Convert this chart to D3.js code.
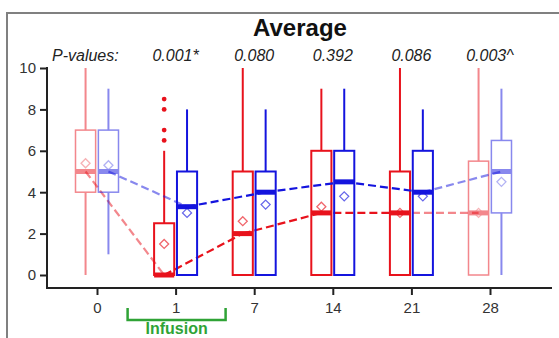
<!DOCTYPE html>
<meta charset="utf-8">
<style>
    body { margin: 0; background: #fff; }
    text { font-family: "Liberation Sans", Arial, sans-serif; }
</style>

<body>
    <script src="https://d3js.org/d3.v7.min.js"></script>
    <script>

        // days and p-values
        var days = ["0", "1", "7", "14", "21", "28"];
        var pValues = ["", "0.001*", "0.080", "0.392", "0.086", "0.003^"];
        var faded = [true, false, false, false, false, true];

        // red group
        var redMin = [0, 0, 0, 0, 0, 0];
        var redQ1 = [4, 0, 0, 0, 0, 0];
        var redMed = [5, 0, 2, 3, 3, 3];
        var redQ3 = [7, 2.5, 5, 6, 5, 5.5];
        var redMax = [10, 6, 10, 9, 10, 10];
        var redMean = [5.4, 1.5, 2.6, 3.3, 3.0, 3.0];
        var redOutliers = [[], [6.5, 7, 8, 8.5], [], [], [], []];

        // blue group
        var blueMin = [1, 0, 0, 0, 0, 0];
        var blueQ1 = [4, 0, 0, 0, 0, 3];
        var blueMed = [5, 3.3, 4, 4.5, 4, 5];
        var blueQ3 = [7, 5, 5, 6, 6, 6.5];
        var blueMax = [9, 8, 8, 9, 8, 9];
        var blueMean = [5.3, 3.0, 3.4, 3.8, 3.8, 4.5];
        var blueOutliers = [[], [], [], [], [], []];

        var yTicks = [0, 2, 4, 6, 8, 10];

        var W = 559, H = 338;
        var svg = d3.select("body").append("svg")
            .attr("width", W)
            .attr("height", H);

        // frame
        svg.append("path")
            .attr("d", "M7," + H + "V13H" + W)
            .attr("fill", "none")
            .attr("stroke", "#808080")
            .attr("stroke-width", 2);

        var x = d3.scalePoint().domain(days).range([97, 490]);
        var y = d3.scaleLinear().domain([0, 10]).range([275, 68]);
        var sub = d3.scaleBand().domain(["red", "blue"]).range([-21.5, 21.5]).paddingInner(0.12);

        var groups = [
            { key: "red", color: "#e8121c", min: redMin, q1: redQ1, med: redMed, q3: redQ3, max: redMax, mean: redMean, out: redOutliers },
            { key: "blue", color: "#1414de", min: blueMin, q1: blueQ1, med: blueMed, q3: blueQ3, max: blueMax, mean: blueMean, out: blueOutliers }
        ];

        var bw = sub.bandwidth();

        groups.forEach(function (g) {
            var rows = days.map(function (d, i) {
                return {
                    day: d, i: i, min: g.min[i], q1: g.q1[i], med: g.med[i], q3: g.q3[i],
                    max: g.max[i], mean: g.mean[i], out: g.out[i], faded: faded[i]
                };
            });
            var cx = function (d) { return x(d.day) + sub(g.key) + bw / 2; };

            var box = svg.append("g").selectAll("g")
                .data(rows).enter().append("g")
                .attr("opacity", function (d) { return d.faded ? 0.5 : 1; });

            // whiskers
            box.append("line")
                .attr("x1", cx).attr("x2", cx)
                .attr("y1", function (d) { return y(d.min); })
                .attr("y2", function (d) { return y(d.q1); })
                .attr("stroke", g.color).attr("stroke-width", 2);
            box.append("line")
                .attr("x1", cx).attr("x2", cx)
                .attr("y1", function (d) { return y(d.q3); })
                .attr("y2", function (d) { return y(d.max); })
                .attr("stroke", g.color).attr("stroke-width", 2);

            // box
            box.append("rect")
                .attr("x", function (d) { return cx(d) - bw / 2; })
                .attr("y", function (d) { return y(d.q3); })
                .attr("width", bw)
                .attr("height", function (d) { return y(d.q1) - y(d.q3); })
                .attr("fill", "none")
                .attr("stroke", g.color)
                .attr("stroke-width", function (d) { return d.faded ? 1.5 : 2; });

            // median band
            box.append("rect")
                .attr("x", function (d) { return cx(d) - bw / 2; })
                .attr("y", function (d) { return y(d.med) - 2.5; })
                .attr("width", bw)
                .attr("height", 5)
                .attr("fill", g.color);

            // mean diamond
            box.append("path")
                .attr("d", "M0,-4.5L4.5,0L0,4.5L-4.5,0Z")
                .attr("transform", function (d) { return "translate(" + cx(d) + "," + y(d.mean) + ")"; })
                .attr("fill", "none")
                .attr("stroke", g.color)
                .attr("stroke-opacity", 0.65)
                .attr("stroke-width", 1.3);

            // outliers
            box.selectAll("circle")
                .data(function (d) { return d.out.map(function (v) { return { day: d.day, v: v }; }); })
                .enter().append("circle")
                .attr("cx", cx)
                .attr("cy", function (d) { return y(d.v); })
                .attr("r", 2.4)
                .attr("fill", g.color);

            // dashed median line, one segment at a time
            for (var i = 0; i < rows.length - 1; i++) {
                var a = rows[i], b = rows[i + 1];
                svg.append("line")
                    .attr("x1", cx(a)).attr("y1", y(a.med))
                    .attr("x2", cx(b)).attr("y2", y(b.med))
                    .attr("stroke", g.color)
                    .attr("stroke-width", 2.2)
                    .attr("stroke-dasharray", "8,4")
                    .attr("opacity", (a.faded || b.faded) ? 0.5 : 1);
            }
        });

        // Y axis
        var yAxis = svg.append("g")
            .attr("transform", "translate(47,0)")
            .call(d3.axisLeft(y).tickValues(yTicks).tickSize(7).tickPadding(4));
        yAxis.select(".domain").remove();
        yAxis.selectAll("line").attr("stroke", "#222").attr("stroke-width", 2);
        yAxis.selectAll("text").attr("font-size", 15).attr("fill", "#333")
            .style("font-family", "'Liberation Sans', Arial, sans-serif");

        // X axis
        var xAxis = svg.append("g")
            .attr("transform", "translate(0,288)")
            .call(d3.axisBottom(x).tickSize(7).tickPadding(7));
        xAxis.select(".domain").remove();
        xAxis.selectAll("line").attr("stroke", "#222").attr("stroke-width", 2);
        xAxis.selectAll("text").attr("font-size", 15).attr("fill", "#333")
            .style("font-family", "'Liberation Sans', Arial, sans-serif");

        // axis lines
        svg.append("path")
            .attr("d", "M47,67V288H552")
            .attr("fill", "none")
            .attr("stroke", "#222")
            .attr("stroke-width", 2);

        // title
        svg.append("text")
            .attr("x", 300)
            .attr("y", 36)
            .attr("text-anchor", "middle")
            .attr("font-size", 24)
            .attr("font-weight", "bold")
            .attr("fill", "#111")
            .text("Average");

        // p-values
        svg.append("text")
            .attr("x", 52)
            .attr("y", 61)
            .attr("font-size", 16)
            .attr("font-style", "italic")
            .attr("fill", "#222")
            .text("P-values:");
        svg.append("g").selectAll("text")
            .data(days.map(function (d, i) { return { day: d, p: pValues[i] }; }))
            .enter().append("text")
            .attr("x", function (d) { return x(d.day); })
            .attr("y", 61)
            .attr("text-anchor", "middle")
            .attr("font-size", 16)
            .attr("font-style", "italic")
            .attr("fill", "#222")
            .text(function (d) { return d.p; });

        // infusion bracket
        var green = "#2fa336";
        var bx0 = x("1") - 48, bx1 = x("1") + 50;
        svg.append("path")
            .attr("d", "M" + bx0 + ",308V320H" + bx1 + "V308")
            .attr("fill", "none")
            .attr("stroke", green)
            .attr("stroke-width", 2.5);
        svg.append("text")
            .attr("x", (bx0 + bx1) / 2)
            .attr("y", 334)
            .attr("text-anchor", "middle")
            .attr("font-size", 16)
            .attr("font-weight", "bold")
            .attr("fill", green)
            .text("Infusion");

    </script>
</body>
